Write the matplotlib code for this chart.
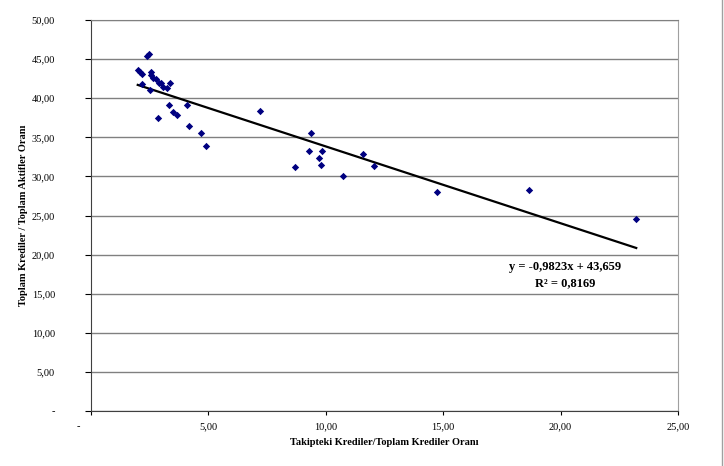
"""
Takipteki krediler oranı ile toplam krediler / toplam aktifler oranı - dağılım grafiği
"""

import matplotlib
matplotlib.use('Agg')
import matplotlib.pyplot as plt
import matplotlib.transforms as mtransforms
from matplotlib.lines import Line2D

plt.rcParams['font.family'] = ['Liberation Serif', 'DejaVu Serif']

# ====== veriler ======
takipteki = [2.37, 2.47, 1.99, 2.09, 2.19, 2.54, 2.56, 2.65, 2.77, 2.90, 2.98,
             3.05, 3.22, 3.36, 2.19, 2.51, 3.32, 4.07, 2.87, 3.48, 3.68, 4.16,
             4.68, 4.88, 7.20, 9.37, 9.27, 9.82, 9.70, 9.81, 8.67, 11.57, 12.05,
             10.72, 14.75, 18.64, 23.22]
kredi_aktif = [45.4, 45.6, 43.57, 43.35, 43.1, 43.35, 43.0, 42.6, 42.5, 42.0, 41.9,
               41.5, 41.3, 41.9, 41.8, 41.0, 39.1, 39.1, 37.5, 38.2, 37.85, 36.4,
               35.6, 33.9, 38.4, 35.6, 33.2, 33.3, 32.3, 31.4, 31.2, 32.9, 31.3,
               30.1, 28.0, 28.3, 24.6]

# trend çizgisi katsayıları (grafikteki denklem)
egim = -0.9823
sabit = 43.659
r2 = 0.8169

x_ticks = [0, 5, 10, 15, 20, 25]
y_ticks = [0, 5, 10, 15, 20, 25, 30, 35, 40, 45, 50]


def tr_format(v):
    if v == 0:
        return '-'
    return f'{v:.2f}'.replace('.', ',')


# ====== grafik ======
fig = plt.figure(figsize=(7.24, 4.66), dpi=100)
ax = fig.add_axes([0.1257, 0.118, 0.9365 - 0.1257, 0.957 - 0.118])

ax.scatter(takipteki, kredi_aktif, marker='D', s=14, color='#000080', zorder=3,
           linewidths=0)

x_trend = [min(takipteki), max(takipteki)]
y_trend = [egim * x + sabit for x in x_trend]
ax.plot(x_trend, y_trend, color='black', linewidth=1.6, zorder=2)

ax.set_xlim(0, 25)
ax.set_ylim(0, 50)
ax.set_xticks(x_ticks)
ax.set_yticks(y_ticks)
ax.set_xticklabels([tr_format(v) for v in x_ticks], fontsize=7.5)
ax.set_yticklabels([tr_format(v) for v in y_ticks], fontsize=7.5)
ax.tick_params(axis='y', direction='out', length=4, pad=22, width=0.8)
ax.tick_params(axis='x', direction='out', length=3, pad=5, width=0.8)

# "-" etiketi eksenin solunda
lbl0 = ax.get_xticklabels()[0]
lbl0.set_transform(lbl0.get_transform() +
                   mtransforms.ScaledTranslation(-13 / 100, 0, fig.dpi_scale_trans))

ax.grid(axis='y', color='#808080', linewidth=1)
ax.set_axisbelow(True)

ax.spines['left'].set_color('#404040')
ax.spines['bottom'].set_color('#404040')
ax.spines['top'].set_color('#808080')
ax.spines['right'].set_color('#a0a0a0')

ax.set_xlabel('Takipteki Krediler/Toplam Krediler Oranı', fontsize=7.5,
              fontweight='bold', labelpad=5)
ax.set_ylabel('Toplam Krediler / Toplam Aktifler Oranı', fontsize=7.5,
              fontweight='bold')
ax.yaxis.set_label_coords(-0.107, 0.5)

ax.text(20.2, 18.4, f'y = {egim:.4f}x + {sabit:.3f}'.replace('.', ','),
        fontsize=9, fontweight='bold', ha='center', va='center')
ax.text(20.2, 16.3, f'R² = {r2:.4f}'.replace('.', ','),
        fontsize=9, fontweight='bold', ha='center', va='center')

# grafik alanı sağ kenarı
fig.add_artist(Line2D([0.997, 0.997], [0, 1], transform=fig.transFigure,
                      color='#a0a0a0', linewidth=1))

plt.savefig('out.png', dpi=100)
